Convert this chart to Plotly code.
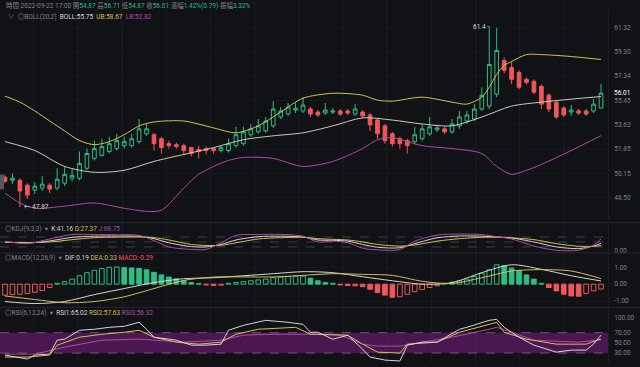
import math
import plotly.graph_objects as go

# ---------------- data ----------------
candle_idx = list(range(81))
open_p = [49.88, 49.67, 49.67, 49.34, 49.00, 49.14, 49.34, 49.14, 49.47, 49.81,
          49.81, 50.50, 51.19, 51.40, 51.68, 51.89, 52.10, 52.10, 52.39, 52.96,
          52.89, 52.60, 52.24, 52.17, 52.10, 51.96, 51.82, 51.89, 51.89, 51.75,
          51.75, 52.10, 52.24, 52.89, 53.10, 53.17, 53.54, 54.20, 54.42, 54.72,
          54.65, 54.80, 54.57, 54.50, 54.57, 54.65, 54.65, 54.42, 54.57, 54.35,
          53.97, 53.54, 52.96, 52.60, 52.46, 52.39, 52.60, 52.96, 53.25, 53.32,
          53.10, 53.54, 53.90, 54.05, 54.80, 55.02, 55.93, 58.59, 58.03, 57.64,
          57.09, 56.93, 56.54, 55.85, 55.32, 54.87, 54.57, 54.65, 54.65, 54.65,
          54.87]
high_p = [50.01, 50.15, 49.81, 49.47, 49.54, 49.95, 49.47, 50.50, 50.63, 50.50,
          51.68, 51.89, 52.46, 52.60, 52.74, 52.96, 52.74, 52.96, 54.05, 53.68,
          53.03, 52.74, 52.46, 52.32, 52.24, 52.03, 52.10, 52.03, 51.96, 52.10,
          52.60, 53.47, 53.47, 53.68, 54.05, 54.20, 55.40, 54.95, 55.25, 55.25,
          55.70, 54.95, 54.72, 55.25, 54.87, 54.80, 54.80, 55.17, 54.72, 54.50,
          54.13, 53.68, 53.10, 52.74, 52.60, 53.47, 53.61, 54.20, 53.61, 53.47,
          54.05, 54.65, 54.65, 55.17, 56.47, 61.40, 61.30, 58.83, 58.51, 57.80,
          57.25, 57.09, 56.70, 56.00, 55.47, 55.02, 55.10, 54.80, 54.80, 55.55,
          56.71]
low_p = [49.47, 49.41, 47.87, 48.41, 48.74, 48.94, 48.80, 49.00, 49.27, 49.61,
         49.67, 50.36, 51.05, 51.33, 51.54, 51.75, 51.89, 51.96, 52.24, 52.81,
         51.75, 51.54, 51.89, 51.89, 51.47, 51.33, 51.19, 51.47, 51.54, 51.61,
         51.61, 51.96, 52.10, 52.74, 52.96, 53.03, 53.39, 54.05, 54.28, 54.50,
         54.50, 54.20, 54.20, 54.35, 54.42, 54.28, 54.35, 54.28, 54.13, 53.17,
         52.60, 52.24, 52.03, 51.89, 51.54, 52.17, 52.46, 52.81, 53.10, 52.96,
         52.96, 53.32, 53.68, 53.90, 54.65, 54.80, 55.70, 57.56, 56.70, 56.31,
         56.70, 55.93, 54.80, 54.57, 54.05, 54.20, 54.28, 54.35, 54.28, 54.50,
         54.87]
close_p = [49.61, 49.81, 48.94, 48.67, 49.27, 49.41, 49.07, 49.74, 50.08, 50.01,
           50.84, 51.54, 51.89, 52.03, 52.24, 52.46, 52.39, 52.60, 53.32, 53.32,
           52.24, 51.96, 52.10, 52.03, 51.75, 51.54, 51.68, 51.75, 51.75, 51.96,
           52.24, 52.89, 53.10, 53.32, 53.54, 53.90, 54.80, 54.65, 54.95, 54.87,
           55.10, 54.42, 54.35, 54.72, 54.65, 54.42, 54.50, 54.80, 54.28, 53.61,
           52.96, 52.46, 52.24, 52.24, 52.10, 52.89, 53.32, 53.47, 53.39, 53.10,
           53.68, 54.20, 54.35, 54.80, 55.85, 58.27, 59.40, 57.80, 57.09, 56.47,
           56.85, 56.08, 55.17, 54.80, 54.20, 54.35, 54.72, 54.50, 54.42, 55.17,
           56.01]

boll_up_idx = [0, 2, 4, 6, 8, 10, 12, 14, 16, 18, 20, 24, 28, 31, 34, 37, 40, 44, 48, 50,
               52, 56, 60, 62, 64, 65, 66, 67, 68, 70, 72, 76, 80]
boll_up = [55.78, 55.32, 54.65, 53.90, 53.17, 52.46, 52.17, 52.39, 52.89, 53.54, 53.83,
           53.90, 53.39, 53.03, 53.54, 54.57, 55.62, 56.00, 55.85, 55.47, 55.40, 55.70,
           55.32, 55.17, 55.70, 56.47, 57.48, 58.19, 58.51, 59.07, 59.07, 58.91, 58.67]
boll_mid_idx = [0, 4, 8, 12, 16, 20, 24, 28, 32, 36, 40, 44, 48, 52, 56, 60, 64, 68, 72, 76, 80]
boll_mid = [52.39, 51.75, 50.63, 50.22, 50.36, 50.98, 51.47, 51.96, 52.53, 52.81, 53.03,
            53.54, 54.13, 53.97, 53.68, 53.54, 54.20, 55.02, 55.32, 55.55, 55.75]
boll_low_idx = [0, 2, 4, 8, 12, 16, 19, 21, 24, 26, 28, 30, 32, 36, 40, 44, 48, 50, 52, 56,
                60, 64, 66, 68, 70, 72, 76, 80]
boll_low = [48.80, 48.14, 47.79, 47.93, 48.14, 47.79, 47.59, 47.66, 49.14, 50.08, 50.63,
            51.05, 51.26, 51.19, 50.63, 50.98, 51.89, 52.53, 52.67, 52.10, 51.89, 51.54,
            50.63, 50.08, 50.36, 50.77, 51.75, 52.82]

kdj_idx = [0, 3, 6, 9, 12, 15, 18, 20, 22, 25, 27, 29, 31, 34, 37, 40, 42, 44, 46, 48, 50,
           53, 55, 58, 61, 64, 66, 68, 71, 74, 77, 79, 80]
kdj_k = [50, 44, 56, 78, 85, 86, 84, 70, 45, 22, 20, 35, 62, 82, 85, 80, 62, 60, 55, 35, 18,
         15, 40, 75, 86, 85, 80, 74, 50, 20, 10, 25, 41.16]
kdj_d = [48, 47, 50, 64, 76, 79, 80, 76, 62, 35, 29, 30, 45, 68, 76, 78, 70, 66, 62, 50, 35,
         25, 32, 55, 70, 78, 79, 75, 64, 40, 24, 24, 27.37]
kdj_j = [54, 40, 68, 95, 95, 94, 90, 58, 20, 5, 5, 45, 90, 95, 96, 85, 50, 55, 45, 12, 2,
         4, 55, 92, 98, 95, 82, 68, 25, 0, 0, 30, 68.75]

macd_hist = [-0.65, -0.62, -0.60, -0.55, -0.48, -0.38, -0.20, 0.05, 0.15, 0.30,
             0.50, 0.68, 0.82, 0.92, 1.00, 1.02, 0.98, 0.96, 0.93, 0.85,
             0.70, 0.55, 0.42, 0.32, 0.20, 0.10, 0.03, -0.05, -0.08, -0.06,
             0.05, 0.10, 0.15, 0.20, 0.25, 0.30, 0.38, 0.42, 0.45, 0.47,
             0.48, 0.35, 0.20, 0.10, 0.05, -0.05, -0.08, -0.10, -0.15, -0.30,
             -0.50, -0.65, -0.78, -0.75, -0.60, -0.45, -0.32, -0.20, -0.10, 0.05,
             0.12, 0.20, 0.30, 0.45, 0.65, 0.85, 1.15, 1.10, 0.95, 0.80,
             0.55, 0.30, 0.05, -0.20, -0.40, -0.60, -0.70, -0.72, -0.55, -0.40,
             -0.29]
macd_line_idx = [0, 4, 8, 12, 16, 20, 24, 28, 32, 36, 40, 44, 48, 52, 56, 60, 64, 68, 72, 76, 80]
macd_dif = [-1.03, -1.15, -1.03, -0.62, -0.26, 0.09, 0.32, 0.38, 0.50, 0.62, 0.74, 0.68,
            0.44, 0.20, 0.00, 0.09, 0.68, 1.15, 0.88, 0.50, 0.19]
macd_dea = [-0.70, -0.91, -1.10, -1.03, -0.75, -0.26, 0.22, 0.42, 0.43, 0.43, 0.52, 0.62,
            0.58, 0.52, 0.17, 0.04, 0.38, 0.78, 0.86, 0.78, 0.33]

rsi1_idx = [0, 3, 4, 6, 7, 8, 10, 12, 14, 16, 18, 19, 20, 23, 25, 27, 29, 30, 32, 35, 38, 40,
            41, 42, 44, 46, 48, 49, 51, 53, 54, 56, 58, 61, 62, 65, 66, 67, 69, 71, 74, 76,
            78, 79, 80]
rsi1 = [26.1, 18.3, 26.1, 28.0, 55.3, 57.2, 74.7, 76.7, 80.5, 82.5, 90.3, 76.7, 61.1, 55.3,
        45.5, 45.5, 47.5, 74.7, 84.4, 94.2, 90.3, 86.4, 70.8, 70.8, 57.2, 65.0, 37.7, 22.2,
        16.3, 14.4, 45.5, 51.4, 51.4, 76.7, 80.5, 94.2, 96.1, 80.5, 61.1, 45.5, 31.9, 35.8,
        35.8, 47.5, 65.02]
rsi2_idx = [0, 3, 6, 7, 10, 13, 16, 18, 20, 23, 26, 29, 31, 34, 39, 41, 42, 46, 48, 50, 53,
            54, 58, 61, 65, 66, 67, 70, 74, 78, 80]
rsi2 = [22.2, 22.2, 26.1, 45.5, 61.1, 66.9, 70.8, 74.7, 61.1, 51.4, 47.5, 51.4, 66.9, 76.7,
        80.5, 66.9, 66.9, 65.0, 47.5, 31.9, 30.0, 47.5, 51.4, 70.8, 86.4, 90.3, 70.8, 57.2,
        47.5, 47.5, 57.63]
rsi3_idx = [0, 4, 8, 13, 18, 20, 24, 29, 32, 35, 40, 42, 45, 48, 50, 53, 56, 60, 65, 66, 68,
            71, 77, 80]
rsi3 = [28.0, 28.0, 41.6, 55.3, 57.2, 55.3, 51.4, 55.3, 65.0, 66.9, 66.9, 66.9, 65.0, 47.5,
        43.6, 43.6, 51.4, 61.1, 76.7, 80.5, 70.8, 55.3, 51.4, 56.32]

price_ticks = [61.32, 59.30, 57.34, 55.45, 53.63, 51.85, 50.15, 48.50]
price_tick_text = ["61.32", "59.30", "57.34", "55.45", "53.63", "51.85", "50.15", "48.50"]
header_time = "2022-09-22 17:00"
change_text = "1.42%(0.79)"
amplitude_text = "3.32%"

# ---------------- styling / layout constants ----------------
W, H = 640, 367
PLOT_W = 608
BG = "#111216"
GRID = "#1c1e23"
SEP = "#26282d"
GREEN = "#2ebd85"
RED = "#f0575a"
WHITE = "#d6d6d6"
YELLOW = "#d4bf56"
PURPLE = "#b04aa8"
GRAY = "#80838a"
FONT = "Roboto, Noto Sans CJK TC, DejaVu Sans"
NB = "\u00a0"

X0 = -5 / 7.45
X1 = X0 + PLOT_W / 7.45


def ydom(top, bottom):
    return [1 - bottom / H, 1 - top / H]


def span(t, c):
    return f'<span style="color:{c}">{t}</span>'


fig = go.Figure()

# main: candles + BOLL
fig.add_trace(go.Candlestick(
    x=candle_idx, open=open_p, high=high_p, low=low_p, close=close_p,
    increasing=dict(line=dict(color=GREEN, width=1), fillcolor="rgba(0,0,0,0)"),
    decreasing=dict(line=dict(color=RED, width=1), fillcolor=RED),
    whiskerwidth=0, xaxis="x", yaxis="y", hoverinfo="skip"))
for xs, ys, c in [(boll_up_idx, boll_up, YELLOW), (boll_mid_idx, boll_mid, "#cfcac0"),
                  (boll_low_idx, boll_low, PURPLE)]:
    fig.add_trace(go.Scatter(x=xs, y=ys, mode="lines", xaxis="x", yaxis="y",
                             line=dict(color=c, width=1, shape="spline", smoothing=0.8)))

# KDJ
for ys, c in [(kdj_k, WHITE), (kdj_d, YELLOW), (kdj_j, PURPLE)]:
    fig.add_trace(go.Scatter(x=kdj_idx, y=ys, mode="lines", xaxis="x2", yaxis="y2",
                             line=dict(color=c, width=1, shape="spline", smoothing=0.8)))

# MACD histogram
bar_line, bar_fill = [], []
prev = None
for v in macd_hist:
    c = GREEN if v >= 0 else RED
    hollow = prev is None or v > prev
    bar_line.append(c)
    bar_fill.append("rgba(0,0,0,0)" if hollow else c)
    prev = v
fig.add_trace(go.Bar(x=candle_idx, y=macd_hist, width=0.62, xaxis="x3", yaxis="y3",
                     marker=dict(color=bar_fill, line=dict(color=bar_line, width=1))))
for ys, c in [(macd_dif, WHITE), (macd_dea, YELLOW)]:
    fig.add_trace(go.Scatter(x=macd_line_idx, y=ys, mode="lines", xaxis="x3", yaxis="y3",
                             line=dict(color=c, width=1, shape="spline", smoothing=0.8)))

# RSI
for xs, ys, c in [(rsi3_idx, rsi3, PURPLE), (rsi2_idx, rsi2, YELLOW), (rsi1_idx, rsi1, WHITE)]:
    fig.add_trace(go.Scatter(x=xs, y=ys, mode="lines", xaxis="x4", yaxis="y4",
                             line=dict(color=c, width=1)))

xcommon = dict(range=[X0, X1], showticklabels=False, showgrid=False, zeroline=False,
               showline=False, ticks="", fixedrange=True)
ycommon = dict(side="right", zeroline=False, ticks="", ticklabelstandoff=4,
               tickfont=dict(size=6.5, color=GRAY, family=FONT), showline=True,
               linecolor=GRID, linewidth=1, fixedrange=True)

fig.update_layout(
    width=W, height=H, margin=dict(l=0, r=W - PLOT_W, t=0, b=0),
    paper_bgcolor=BG, plot_bgcolor=BG, showlegend=False, hovermode=False,
    bargap=0.3,
    xaxis=dict(**xcommon, anchor="y", rangeslider=dict(visible=False)),
    xaxis2=dict(**xcommon, anchor="y2"),
    xaxis3=dict(**xcommon, anchor="y3"),
    xaxis4=dict(**xcommon, anchor="y4"),
    yaxis=dict(**ycommon, type="log", range=[1.67221, 1.79810], domain=ydom(10, 222),
               anchor="x", tickvals=price_ticks, ticktext=price_tick_text,
               showgrid=True, gridcolor="#17191d"),
    yaxis2=dict(**ycommon, range=[-10.2, 157.8], domain=ydom(226, 254), anchor="x2",
                tickvals=[0], ticktext=["0.00"], showgrid=False),
    yaxis3=dict(**ycommon, range=[-1.324, 1.794], domain=ydom(256, 309), anchor="x3",
                tickvals=[1, 0, -1], ticktext=["1.00", "0.00", "-1.00"],
                showgrid=True, gridcolor="#17191d"),
    yaxis4=dict(**ycommon, range=[8.56, 117.5], domain=ydom(311, 367), anchor="x4",
                tickvals=[100, 70, 50, 30], ticktext=["100.00", "70.00", "50.00", "30.00"],
                showgrid=False),
)

shapes = []
# vertical grid lines over full height
for k in range(13):
    gx = 3.85 + 5.93 * k
    shapes.append(dict(type="line", xref="x", yref="paper", x0=gx, x1=gx, y0=0, y1=1,
                       line=dict(color=GRID, width=1), layer="below"))
# panel separators
for py in [224.5, 255, 310]:
    shapes.append(dict(type="line", xref="paper", yref="paper", x0=0, x1=W / PLOT_W,
                       y0=1 - py / H, y1=1 - py / H, line=dict(color=SEP, width=1)))
# KDJ reference lines
for lv in [80, 50, 20]:
    shapes.append(dict(type="line", xref="paper", yref="y2", x0=0, x1=1, y0=lv, y1=lv,
                       line=dict(color="rgba(150,150,160,0.35)", width=1, dash="dash"),
                       layer="below"))
# RSI band
shapes.append(dict(type="rect", xref="paper", yref="y4", x0=0, x1=1, y0=30, y1=70,
                   fillcolor="rgba(110,28,118,0.62)", line=dict(width=0), layer="below"))
for lv in [70, 30]:
    shapes.append(dict(type="line", xref="paper", yref="y4", x0=0, x1=1, y0=lv, y1=lv,
                       line=dict(color="rgba(190,110,180,0.6)", width=1, dash="dash"),
                       layer="below"))
# last price dashed line + label box
lc = math.log10(close_p[-1])
shapes.append(dict(type="line", xref="paper", yref="y", x0=0, x1=1, y0=lc, y1=lc,
                   line=dict(color="rgba(170,190,180,0.55)", width=1, dash="dash")))
shapes.append(dict(type="rect", xref="paper", yref="y", x0=1.0, x1=637 / PLOT_W,
                   y0=lc - 0.0033, y1=lc + 0.0033, fillcolor=GREEN, line=dict(width=0),
                   layer="above"))
# left scroll handle
shapes.append(dict(type="rect", xref="paper", yref="paper", x0=0, x1=4 / PLOT_W,
                   y0=1 - 191 / H, y1=1 - 176 / H, fillcolor="#55575d", line=dict(width=0)))
fig.update_layout(shapes=shapes)


def ann(px, py, text, size=6.5, xanchor="left"):
    fig.add_annotation(x=px / PLOT_W, y=1 - py / H, xref="paper", yref="paper", text=text,
                       showarrow=False, xanchor=xanchor, yanchor="middle",
                       font=dict(size=size, family=FONT, color=GRAY))


hdr = (span(f"時間{NB}{header_time}{NB}", GRAY)
       + span("開", GRAY) + span(f"{open_p[-1]:.2f}{NB}", GREEN)
       + span("高", GRAY) + span(f"{high_p[-1]:.2f}{NB}", GREEN)
       + span("低", GRAY) + span(f"{low_p[-1]:.2f}{NB}", GREEN)
       + span("收", GRAY) + span(f"{close_p[-1]:.2f}{NB}", GREEN)
       + span("漲幅", GRAY) + span(f"{change_text}{NB}", GREEN)
       + span("振幅", GRAY) + span(amplitude_text, GREEN))
ann(4, 6, hdr)
ann(6, 17, span(f"∨{NB}{NB}◎BOLL(20,2){NB}{NB}", GRAY)
    + span(f"BOLL:{boll_mid[-1]:.2f}{NB}{NB}", WHITE)
    + span(f"UB:{boll_up[-1]:.2f}{NB}{NB}", YELLOW)
    + span(f"LB:{boll_low[-1]:.2f}", PURPLE))
ann(3, 231, span(f"◎KDJ(9,3,3){NB}{NB}▾{NB}{NB}", GRAY)
    + span(f"K:{kdj_k[-1]:.2f}{NB}", WHITE) + span(f"D:{kdj_d[-1]:.2f}{NB}", YELLOW)
    + span(f"J:{kdj_j[-1]:.2f}", PURPLE))
ann(3, 260, span(f"◎MACD(12,26,9){NB}{NB}▾{NB}{NB}", GRAY)
    + span(f"DIF:{macd_dif[-1]:.2f}{NB}", WHITE) + span(f"DEA:{macd_dea[-1]:.2f}{NB}", YELLOW)
    + span(f"MACD:{macd_hist[-1]:.2f}", RED))
ann(3, 316, span(f"◎RSI(6,12,24){NB}{NB}▾{NB}{NB}", GRAY)
    + span(f"RSI1:{rsi1[-1]:.2f}{NB}", WHITE) + span(f"RSI2:{rsi2[-1]:.2f}{NB}", YELLOW)
    + span(f"RSI3:{rsi3[-1]:.2f}", PURPLE))

# extreme markers
hi_i = high_p.index(max(high_p))
lo_i = low_p.index(min(low_p))
fig.add_annotation(x=hi_i + 0.25, y=math.log10(high_p[hi_i]), xref="x", yref="y",
                   text=f"{high_p[hi_i]:g} -", showarrow=False, xanchor="right",
                   yanchor="middle", font=dict(size=6.5, color="#d8d8d8", family=FONT))
fig.add_annotation(x=lo_i + 0.3, y=math.log10(low_p[lo_i]), xref="x", yref="y",
                   text=f"← {low_p[lo_i]:.2f}", showarrow=False, xanchor="left",
                   yanchor="middle", font=dict(size=6.5, color="#d8d8d8", family=FONT))
# last price label
fig.add_annotation(x=622 / PLOT_W, y=lc, xref="paper", yref="y", text=f"{close_p[-1]:.2f}",
                   showarrow=False, xanchor="center", yanchor="middle",
                   font=dict(size=6.5, color="#ffffff", family=FONT))

fig.write_html("out.html", config={"displayModeBar": False, "staticPlot": True},
               post_script="document.body.style.margin='0';document.body.style.overflow='hidden';")
